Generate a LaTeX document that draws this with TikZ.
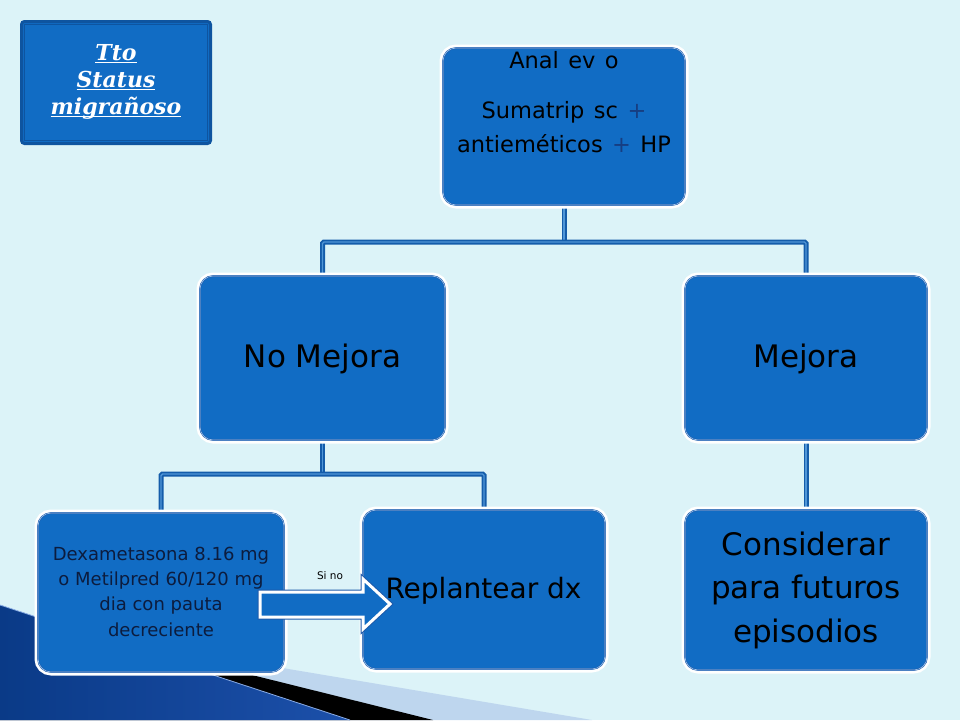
\documentclass[tikz,border=0pt]{standalone}
\usepackage{fontspec}
\setmainfont{DejaVu Sans}
\newfontfamily\titlef{DejaVu Serif}
\usetikzlibrary{backgrounds}
\definecolor{bgc}{RGB}{220,243,248}
\definecolor{boxblue}{RGB}{17,108,196}
\definecolor{boxdark}{RGB}{30,90,170}
\definecolor{boxlight}{RGB}{160,198,238}
\definecolor{conndark}{RGB}{20,92,170}
\definecolor{connlight}{RGB}{80,150,215}
\definecolor{titledark}{RGB}{14,84,160}
\definecolor{plusc}{RGB}{22,62,130}
\definecolor{dextext}{RGB}{12,28,62}
\definecolor{wedgedark}{RGB}{10,58,135}
\definecolor{wedgelight}{RGB}{88,136,216}
\definecolor{wedgemid}{RGB}{28,80,170}
\definecolor{stripc}{RGB}{190,214,238}
\newsavebox\ulbox
\newcommand\myul[1]{\sbox\ulbox{#1}\rlap{\rule[-2.8pt]{\wd\ulbox}{1.3pt}}\usebox\ulbox}
\newcommand\wsp{\hspace{0.42em}}
\begin{document}
\begin{tikzpicture}[x=1pt,y=-1pt,
  mainbox/.style={rectangle, rounded corners=13pt, inner sep=0pt,
    fill=boxblue, draw=boxdark, line width=1.6pt,
    preaction={draw=white, line width=7pt},
    postaction={draw=boxlight, line width=0.6pt}},
  titlebox/.style={rectangle, rounded corners=3pt, inner sep=0pt,
    fill=boxblue, draw=titledark, line width=3pt},
  conn/.style={draw=conndark, line width=1.8pt, double=connlight, double distance=1.4pt, rounded corners=1.5pt},
  txt/.style={inner sep=0pt, anchor=base},
  bigf/.style={font=\fontsize{31}{37}\selectfont, text=black},
  repf/.style={font=\fontsize{28}{34}\selectfont, text=black},
  topf/.style={font=\fontsize{22.5}{27}\selectfont, text=black},
  dexf/.style={font=\fontsize{18}{22}\selectfont, text=dextext},
  ttlf/.style={font=\titlef\bfseries\itshape\fontsize{22}{26}\selectfont, text=white},
  blockarrow/.style={fill=boxblue, draw=white, line width=3pt, line join=miter,
    preaction={draw=boxdark, line width=5pt, line join=miter}}
]
\useasboundingbox (0,0) rectangle (960,720);

% boxes
\node[titlebox, minimum width=189pt, minimum height=122pt] (title) at (116,82.5) {};
\draw[titledark, line width=0.9pt] ([shift={(4.5pt,-4.5pt)}]title.north west) rectangle ([shift={(-4.5pt,4.5pt)}]title.south east);

\node[mainbox, minimum width=242pt, minimum height=157pt] (top) at (564,126.5) {};
\node[mainbox, minimum width=245pt, minimum height=164pt] (nm) at (322.5,358) {};
\node[mainbox, minimum width=242pt, minimum height=164pt] (mj) at (806,358) {};
\node[mainbox, minimum width=246pt, minimum height=159pt] (dex) at (161,592.5) {};
\node[mainbox, minimum width=242pt, minimum height=159pt] (rep) at (484,589.5) {};
\node[mainbox, minimum width=242pt, minimum height=160pt] (con) at (806,590) {};

\coordinate (j1) at (564,242);
\coordinate (j2) at (322.5,474);

\begin{scope}[on background layer]
  \fill[bgc] (0,0) rectangle (960,720);
  % bottom-left decoration
  \fill[stripc] (0,620.5) -- (592,720) -- (0,720) -- cycle;
  \fill[black] (0,612.4) -- (433,720) -- (0,720) -- cycle;
  \shade[left color=wedgedark, middle color=wedgelight, right color=wedgemid]
    (0,605) -- (350,720) -- (0,720) -- cycle;
  \draw[wedgelight!70!white, line width=0.8pt] (0,605) -- (350,720);
  % connectors
  \draw[conn] (top.south) -- (j1);
  \draw[conn] (nm.north) |- (j1) -| (mj.north);
  \draw[conn] (nm.south) -- (j2);
  \draw[conn] (dex.north) |- (j2) -| (rep.north);
  \draw[conn] (mj.south) -- (con.north);
\end{scope}

% title text
\node[txt, ttlf] (tt1) at (116,60) {\myul{Tto}};
\node[txt, ttlf] (tt2) at (116,87) {\myul{Status}};
\node[txt, ttlf] (tt3) at (116,114) {\myul{migrañoso}};

% top box text
\node[txt, topf] (a1) at (564,68) {Anal\wsp ev\wsp o};
\node[txt, topf] (a2) at (564,118) {Sumatrip\wsp sc\wsp{\color{plusc}+}};
\node[txt, topf] (a3) at (564,152) {antieméticos\wsp{\color{plusc}+}\wsp HP};

% second level
\node[txt, bigf] (nmt) at (322.5,367) {No Mejora};
\node[txt, bigf] (mjt) at (806,367) {Mejora};

% third level
\node[txt, dexf] (d1) at (161,560) {Dexametasona 8.16 mg};
\node[txt, dexf] (d2) at (161,585) {o Metilpred 60/120 mg};
\node[txt, dexf] (d3) at (161,610) {dia con pauta};
\node[txt, dexf] (d4) at (161,636) {decreciente};

\node[txt, repf] (rept) at (483.5,598) {Replantear dx};

\node[txt, bigf] (c1) at (806,555) {Considerar};
\node[txt, bigf] (c2) at (806,598) {para futuros};
\node[txt, bigf] (c3) at (806,642) {episodios};

% block arrow
\draw[blockarrow] (260,592) -- (363,592) -- (363,579) -- (390,604) -- (363,629) -- (363,617) -- (260,617) -- cycle;
\node[txt, font=\fontsize{10.5}{12}\selectfont, text=black] (sino) at (330,579) {Si no};
\end{tikzpicture}
\end{document}
